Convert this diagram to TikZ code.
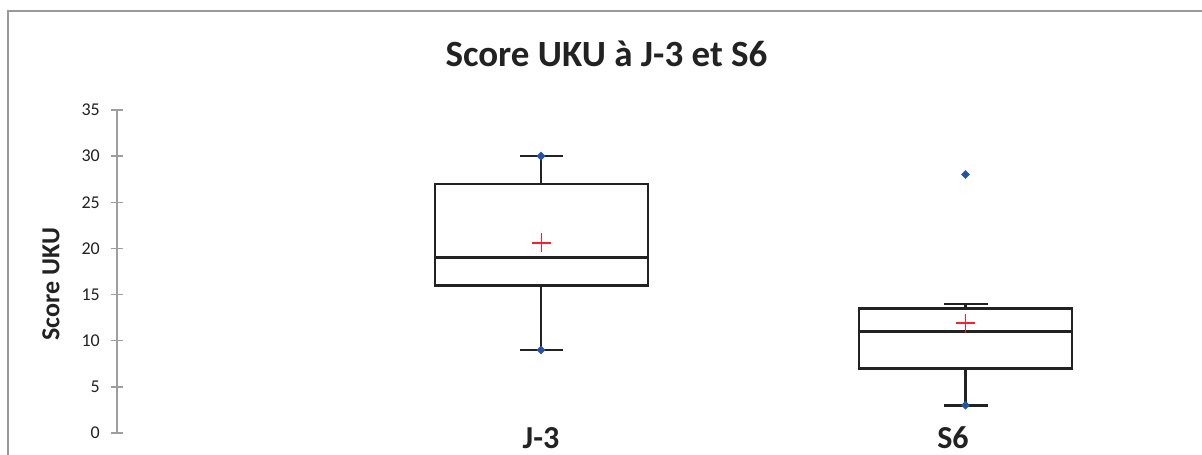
\documentclass[tikz,border=0pt]{standalone}
\usepackage{fontspec}
\setmainfont{Carlito}
\usetikzlibrary{shapes.geometric}
\definecolor{dotblue}{HTML}{2453A6}
\definecolor{meanred}{HTML}{F8202C}
\definecolor{ink}{HTML}{222222}
\begin{document}
\begin{tikzpicture}[x=1pt,y=-1pt,
  framec/.style={draw=black!40,line width=2pt},
  axisc/.style={draw=black!38,line width=1.4pt},
  boxc/.style={draw=ink,line width=2.4pt},
  ticklab/.style={anchor=east,font=\fontsize{18}{18}\selectfont,text=ink,inner sep=0pt},
  catlab/.style={font=\bfseries\fontsize{32}{32}\selectfont,text=ink,inner sep=0pt},
  dot/.style={fill=dotblue,draw=none,diamond,minimum size=9pt,inner sep=0pt},
  meanc/.style={draw=meanred,line width=1.4pt}
]
\useasboundingbox (0,0) rectangle (1202,455);
\fill[white] (0,0) rectangle (1202,455);
\draw[framec] (8,456) -- (8,11) -- (1203,11);
% title
\node[font=\bfseries\fontsize{37}{37}\selectfont,text=ink,inner sep=0pt,anchor=base] (title) at (606.5,66.5) {Score UKU à J-3 et S6};
% axis
\coordinate (a0) at (117,433);
\coordinate (a35) at (117,110);
\draw[axisc] (a0) -- (a35);
\foreach \v in {0,5,...,35}{
  \draw[axisc] (111,{433-\v*9.23}) -- (123,{433-\v*9.23});
  \node[ticklab] (t\v) at (100,{433-\v*9.23}) {\v};
}
\node[rotate=90,font=\bfseries\fontsize{26}{26}\selectfont,text=ink,inner sep=0pt] (ylab) at (51,284) {Score UKU};
% J-3 box
\coordinate (j1) at (435,{433-16*9.23});
\coordinate (j3) at (648,{433-27*9.23});
\draw[boxc] (j1) rectangle (j3);
\draw[boxc] (435,{433-19*9.23}) -- (648,{433-19*9.23});
\draw[boxc] (541,{433-27*9.23}) -- (541,{433-30*9.23});
\draw[boxc] (541,{433-16*9.23}) -- (541,{433-9*9.23});
\draw[boxc] (520,{433-30*9.23}) -- (563,{433-30*9.23});
\draw[boxc] (520,{433-9*9.23}) -- (563,{433-9*9.23});
\node[dot] (jmax) at (541,{433-30*9.23}) {};
\node[dot] (jmin) at (541,{433-9*9.23}) {};
\draw[meanc] (532,{433-20.6*9.23}) -- (551,{433-20.6*9.23});
\draw[meanc] (541.5,{433-20.6*9.23-9.5}) -- (541.5,{433-20.6*9.23+9.5});
% S6 box
\coordinate (s1) at (859,{433-7*9.23});
\coordinate (s3) at (1072,{433-13.5*9.23});
\draw[boxc] (s1) rectangle (s3);
\draw[boxc] (859,{433-11*9.23}) -- (1072,{433-11*9.23});
\draw[boxc] (965.5,{433-13.5*9.23}) -- (965.5,{433-14*9.23});
\draw[boxc] (965.5,{433-7*9.23}) -- (965.5,{433-3*9.23});
\draw[boxc] (944,{433-14*9.23}) -- (988,{433-14*9.23});
\draw[boxc] (944,{433-3*9.23}) -- (988,{433-3*9.23});
\node[dot] (smin) at (965.5,{433-3*9.23}) {};
\node[dot] (sout) at (965.5,{433-28*9.23}) {};
\draw[meanc] (956,{433-11.9*9.23}) -- (975,{433-11.9*9.23});
\draw[meanc] (965.5,{433-11.9*9.23-9.5}) -- (965.5,{433-11.9*9.23+9.5});
% category labels
\node[catlab,anchor=base] (cj) at (541,448) {J-3};
\node[catlab,anchor=base] (cs) at (953,448) {S6};
\end{tikzpicture}
\end{document}
